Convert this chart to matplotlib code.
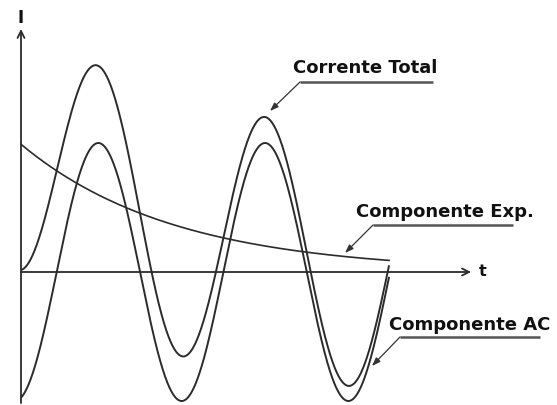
import numpy as np
import matplotlib
matplotlib.use("Agg")
import matplotlib.pyplot as plt

# ---- data (time in AC cycles, current in AC amplitudes) ----
ac_amplitude = 1.0
ac_period = 1.0
ac_phase = 0.036          # cycles the drawn AC leads a pure -cos
exp_initial = 0.99        # exponential component at t = 0
exp_tau = 0.92            # time constant in cycles
t_end = 2.208             # curves stop here
labels = ["Corrente Total", "Componente Exp.", "Componente AC"]
axis_labels = ["I", "t"]

t = np.linspace(0, t_end, 800)
ac = -ac_amplitude * np.cos(2 * np.pi * (t + ac_phase) / ac_period)
expc = exp_initial * np.exp(-t / exp_tau)
total = ac + expc

# ---- figure ----
fig = plt.figure(figsize=(5.57, 4.05), dpi=100)
ax = fig.add_axes([0, 0, 1, 1])
sx, sy = 166.7, 129.0
ax.set_xlim(-21 / sx, (557 - 21) / sx)
ax.set_ylim(-(405 - 272) / sy, 272 / sy)
ax.axis("off")

def P(px, py):
    return ((px - 21) / sx, (272 - py) / sy)

col = "#2b2b2b"
lw = 1.4
ax.plot(t, ac, color=col, lw=lw, solid_capstyle="butt")
ax.plot(t, total, color=col, lw=lw, solid_capstyle="butt")
ax.plot(t, expc, color=col, lw=1.2)

# axes with open arrowheads
ax.annotate("", xy=P(21, 29), xytext=P(21, 403),
            arrowprops=dict(arrowstyle="->,head_length=0.5,head_width=0.25", color=col, lw=1.3, shrinkA=0, shrinkB=0))
ax.annotate("", xy=P(471, 272), xytext=P(21, 272),
            arrowprops=dict(arrowstyle="->,head_length=0.5,head_width=0.25", color=col, lw=1.3, shrinkA=0, shrinkB=0))

font = dict(family="DejaVu Sans", weight="bold", color="#111111")
ax.text(*P(21, 18), axis_labels[0], ha="center", va="center", fontsize=12, **font)
ax.text(*P(483, 272), axis_labels[1], ha="center", va="center", fontsize=11.5, **font)

# label specs (pixel positions): text left/center-y, underline x0,x1,y, arrow tip
specs = [
    (labels[0], (293, 68), (300, 433, 82), (270, 111)),
    (labels[1], (356, 212), (373, 513, 225), (345, 253)),
    (labels[2], (389, 325), (400, 540, 337), (372, 366)),
]
for txt, (tx, ty), (u0, u1, uy), (ax_, ay_) in specs:
    ax.text(*P(tx, ty), txt, ha="left", va="center", fontsize=13, **font)
    x0, y0 = P(u0, uy)
    x1, _ = P(u1, uy)
    ax.plot([x0, x1], [y0, y0], color="#555555", lw=1.8, solid_capstyle="butt")
    ax.annotate("", xy=P(ax_, ay_), xytext=(x0, y0),
                arrowprops=dict(arrowstyle="-|>,head_length=0.5,head_width=0.18",
                                color="#333333", lw=0.9, shrinkA=0, shrinkB=0))

fig.savefig("out.png", dpi=100, facecolor="white")
